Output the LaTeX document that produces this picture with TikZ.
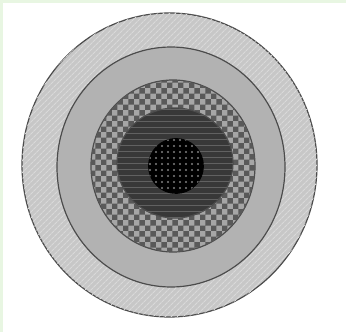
\documentclass[tikz,border=0pt]{standalone}
\usepackage{tikz}
\usetikzlibrary{shapes.geometric, patterns, patterns.meta}

\definecolor{edgegreen}{HTML}{E8F6E2}

\begin{document}
\begin{tikzpicture}[
        x=1pt, y=-1pt,
        ring/.style={ellipse, draw=black!70, line width=1.2pt, inner sep=0pt, minimum width=#1},
        core/.style={circle, draw=black, line width=0.8pt, inner sep=0pt, minimum size=#1}
    ]
%
    % white page, light green strips at top and left
    \fill[white] (0,0) rectangle (346,332);
    \fill[edgegreen] (0,0) rectangle (346,3);
    \fill[edgegreen] (0,0) rectangle (3,332);
    \useasboundingbox (0,0) rectangle (346,332);
%
    \node[ring=295pt, minimum height=304pt, fill=black!22,
          postaction={pattern={Lines[angle=45, distance=4pt, line width=1.2pt]}, pattern color=white!85!black}]
          (outer) at (169.5,165) {};
    \node[ring=228pt, minimum height=240pt, fill=black!30] (second) at (171,167) {};
    \node[ring=164pt, minimum height=172pt, fill=black!35,
          postaction={pattern=checkerboard, pattern color=black!65}] (third) at (173,166) {};
    \node[ring=116pt, minimum height=110pt, fill=black!78,
          postaction={pattern={Lines[angle=0, distance=6pt, line width=1pt]}, pattern color=black!62}] (fourth) at (175,163) {};
    \node[core=55pt, fill=black,
          postaction={pattern={Dots[radius=1.1pt, distance=6pt]}, pattern color=black!50}] (center) at (176,166) {};
%
\end{tikzpicture}
\end{document}
